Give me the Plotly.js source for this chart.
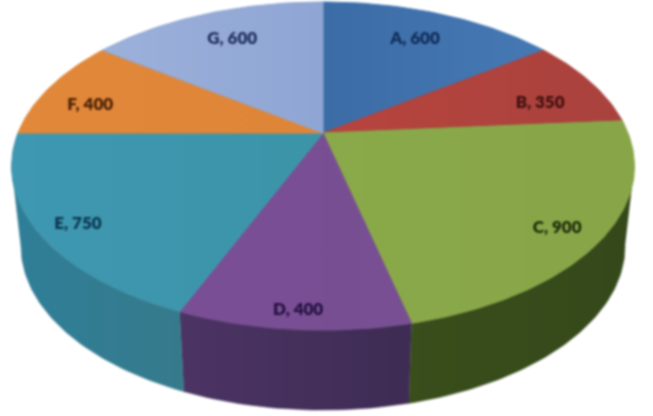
<!DOCTYPE html>
<html>
<head>
<meta charset="utf-8">
<script src="https://cdn.plot.ly/plotly-3.0.1.min.js"></script>
<style>
html,body{margin:0;padding:0;background:#fff;overflow:hidden}
#chart{width:653px;height:416px;filter:blur(0.9px)}
</style>
</head>
<body>
<div id="chart"></div>
<script>
const categories = ['A','B','C','D','E','F','G'];
const values = [600,350,900,400,750,400,600];
const topLeft  = ['#3c6ca6','#b8443e','#8aaa4a','#7a4e96','#3f98b2','#e2883a','#9cb1da'];
const topRight = ['#4679b4','#a9423d','#88a548','#784f92','#3c94a8','#de8538','#8fa5d4'];
const sideLeft  = ['#3c6ca6','#b8443e','#3a4e1c','#4c3464','#2f7f98','#e2883a','#9cb1da'];
const sideRight = ['#3c6ca6','#b8443e','#34481a','#3e2c54','#367a8c','#e2883a','#9cb1da'];
const labelColors = ['#0f2c58','#3e0f0e','#1d2b08','#221040','#0a3450','#4a2006','#1f2f5c'];
const labelRadius = [0.776,0.772,0.866,0.911,0.882,0.818,0.774];
const labelTurn = [-0.7,4.3,1.6,-0.3,-1.4,-4,1];

const cx=323, cy=133, kPersp=0.2012, ax=305, ay=157.4;
const depth=80, baseScale=0.97, rad=Math.PI/180, labelDrop=2.5;
const silhouette=Math.acos(-kPersp)/rad;

function project(deg,r){
  const X=r*Math.sin(deg*rad), Z=r*Math.cos(deg*rad), d=1+kPersp*Z;
  return [cx+ax*X/d, cy-ay*Z/d];
}
function arc(a,b){
  const pts=[], n=Math.max(2,Math.ceil(Math.abs(b-a)));
  for(let i=0;i<=n;i++) pts.push(project(a+(b-a)*i/n,1));
  return pts;
}
const total=values.reduce((s,v)=>s+v,0);
let run=0;
const slices=values.map(v=>{const a=run/total*360; run+=v; return {a,b:run/total*360};});
const traces=[];

// side wall of slices facing the viewer, limited to the visible outline
slices.forEach((s,i)=>{
  const a=Math.max(s.a,silhouette), b=Math.min(s.b,360-silhouette);
  if(b<=a) return;
  const rim=arc(a,b);
  const low=rim.map(p=>[cx+(p[0]-cx)*baseScale,p[1]+depth]).reverse();
  const poly=rim.concat(low);
  traces.push({type:'scatter',mode:'lines',x:poly.map(p=>p[0]),y:poly.map(p=>p[1]),
    fill:'toself',line:{width:0.5,color:sideRight[i]},
    fillgradient:{type:'horizontal',colorscale:[[0,sideLeft[i]],[1,sideRight[i]]]},hoverinfo:'skip'});
});
// top face
slices.forEach((s,i)=>{
  const poly=[[cx,cy]].concat(arc(s.a,s.b));
  poly.push([cx,cy]);
  traces.push({type:'scatter',mode:'lines',x:poly.map(p=>p[0]),y:poly.map(p=>p[1]),
    fill:'toself',line:{width:1,color:topRight[i]},
    fillgradient:{type:'horizontal',colorscale:[[0,topLeft[i]],[1,topRight[i]]]},hoverinfo:'skip'});
});
// labels
const lp=slices.map((s,i)=>project((s.a+s.b)/2+labelTurn[i],labelRadius[i]));
traces.push({type:'scatter',mode:'text',x:lp.map(p=>p[0]),y:lp.map(p=>p[1]+labelDrop),
  text:categories.map((c,i)=>c+', '+values[i]),textposition:'middle center',
  textfont:{family:'Lato, "Open Sans", sans-serif',size:17,weight:800,color:labelColors},hoverinfo:'skip'});

Plotly.newPlot('chart',traces,{
  width:653,height:416,showlegend:false,
  margin:{l:0,r:0,t:0,b:0},paper_bgcolor:'#fff',plot_bgcolor:'#fff',
  xaxis:{range:[0,653],visible:false,fixedrange:true},
  yaxis:{range:[416,0],visible:false,fixedrange:true}
},{displayModeBar:false,staticPlot:true});
</script>
</body>
</html>
